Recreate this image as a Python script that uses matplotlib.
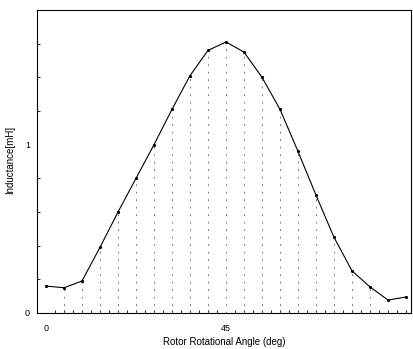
import numpy as np
import matplotlib
matplotlib.use("Agg")
import matplotlib.pyplot as plt
from matplotlib.ticker import MultipleLocator, FixedLocator

# Data
angle_deg = [0, 4.5, 9, 13.5, 18, 22.5, 27, 31.5, 36, 40.5, 45,
             49.5, 54, 58.5, 63, 67.5, 72, 76.5, 81, 85.5, 90]
inductance_mH = [0.16, 0.15, 0.19, 0.39, 0.60, 0.80, 1.00, 1.21, 1.41, 1.56, 1.61,
                 1.55, 1.40, 1.21, 0.96, 0.70, 0.45, 0.25, 0.155, 0.077, 0.095]
x_tick_values = [0, 45]
x_tick_labels = ["0", "45"]
y_tick_values = [0, 1]
y_tick_labels = ["0", "1"]

plt.rcParams['font.family'] = ['Liberation Sans', 'DejaVu Sans']

fig = plt.figure(figsize=(4.13, 3.49), dpi=100)
W, H = 413, 349
left, right, top, bottom = 37, 411, 10, 313
ax = fig.add_axes([left / W, 1 - bottom / H, (right - left) / W, (bottom - top) / H])

# drop lines
ax.vlines(angle_deg[1:-2], 0, inductance_mH[1:-2], colors='0.35', linewidth=0.6,
          linestyles=[(0, (2, 7))])

ax.plot(angle_deg, inductance_mH, color='black', linewidth=0.8,
        marker='o', markersize=2.3, markerfacecolor='black', markeredgewidth=0)

ax.set_xlim(-2.25, 91.25)
ax.set_ylim(0, 1.8)

ax.xaxis.set_major_locator(FixedLocator(x_tick_values))
ax.set_xticklabels(x_tick_labels)
ax.yaxis.set_major_locator(FixedLocator(y_tick_values))
ax.set_yticklabels(y_tick_labels)
ax.xaxis.set_minor_locator(MultipleLocator(2.25))
ax.yaxis.set_minor_locator(MultipleLocator(0.2))
ax.tick_params(which='both', direction='in', length=2, width=0.6, labelsize=6.5)
ax.tick_params(which='major', length=0)
ax.tick_params(axis='x', which='major', pad=8)
ax.tick_params(axis='y', which='major', pad=5)

for s in ax.spines.values():
    s.set_linewidth(0.8)

ax.set_xlabel("Rotor Rotational Angle (deg)", fontsize=7, labelpad=3)
ax.set_ylabel("Inductance[mH]", fontsize=7)
ax.yaxis.set_label_coords((10 - left) / (right - left), (bottom - 160) / (bottom - top))
ax.yaxis.label.set_verticalalignment('center')

fig.savefig("out.png", dpi=100)
